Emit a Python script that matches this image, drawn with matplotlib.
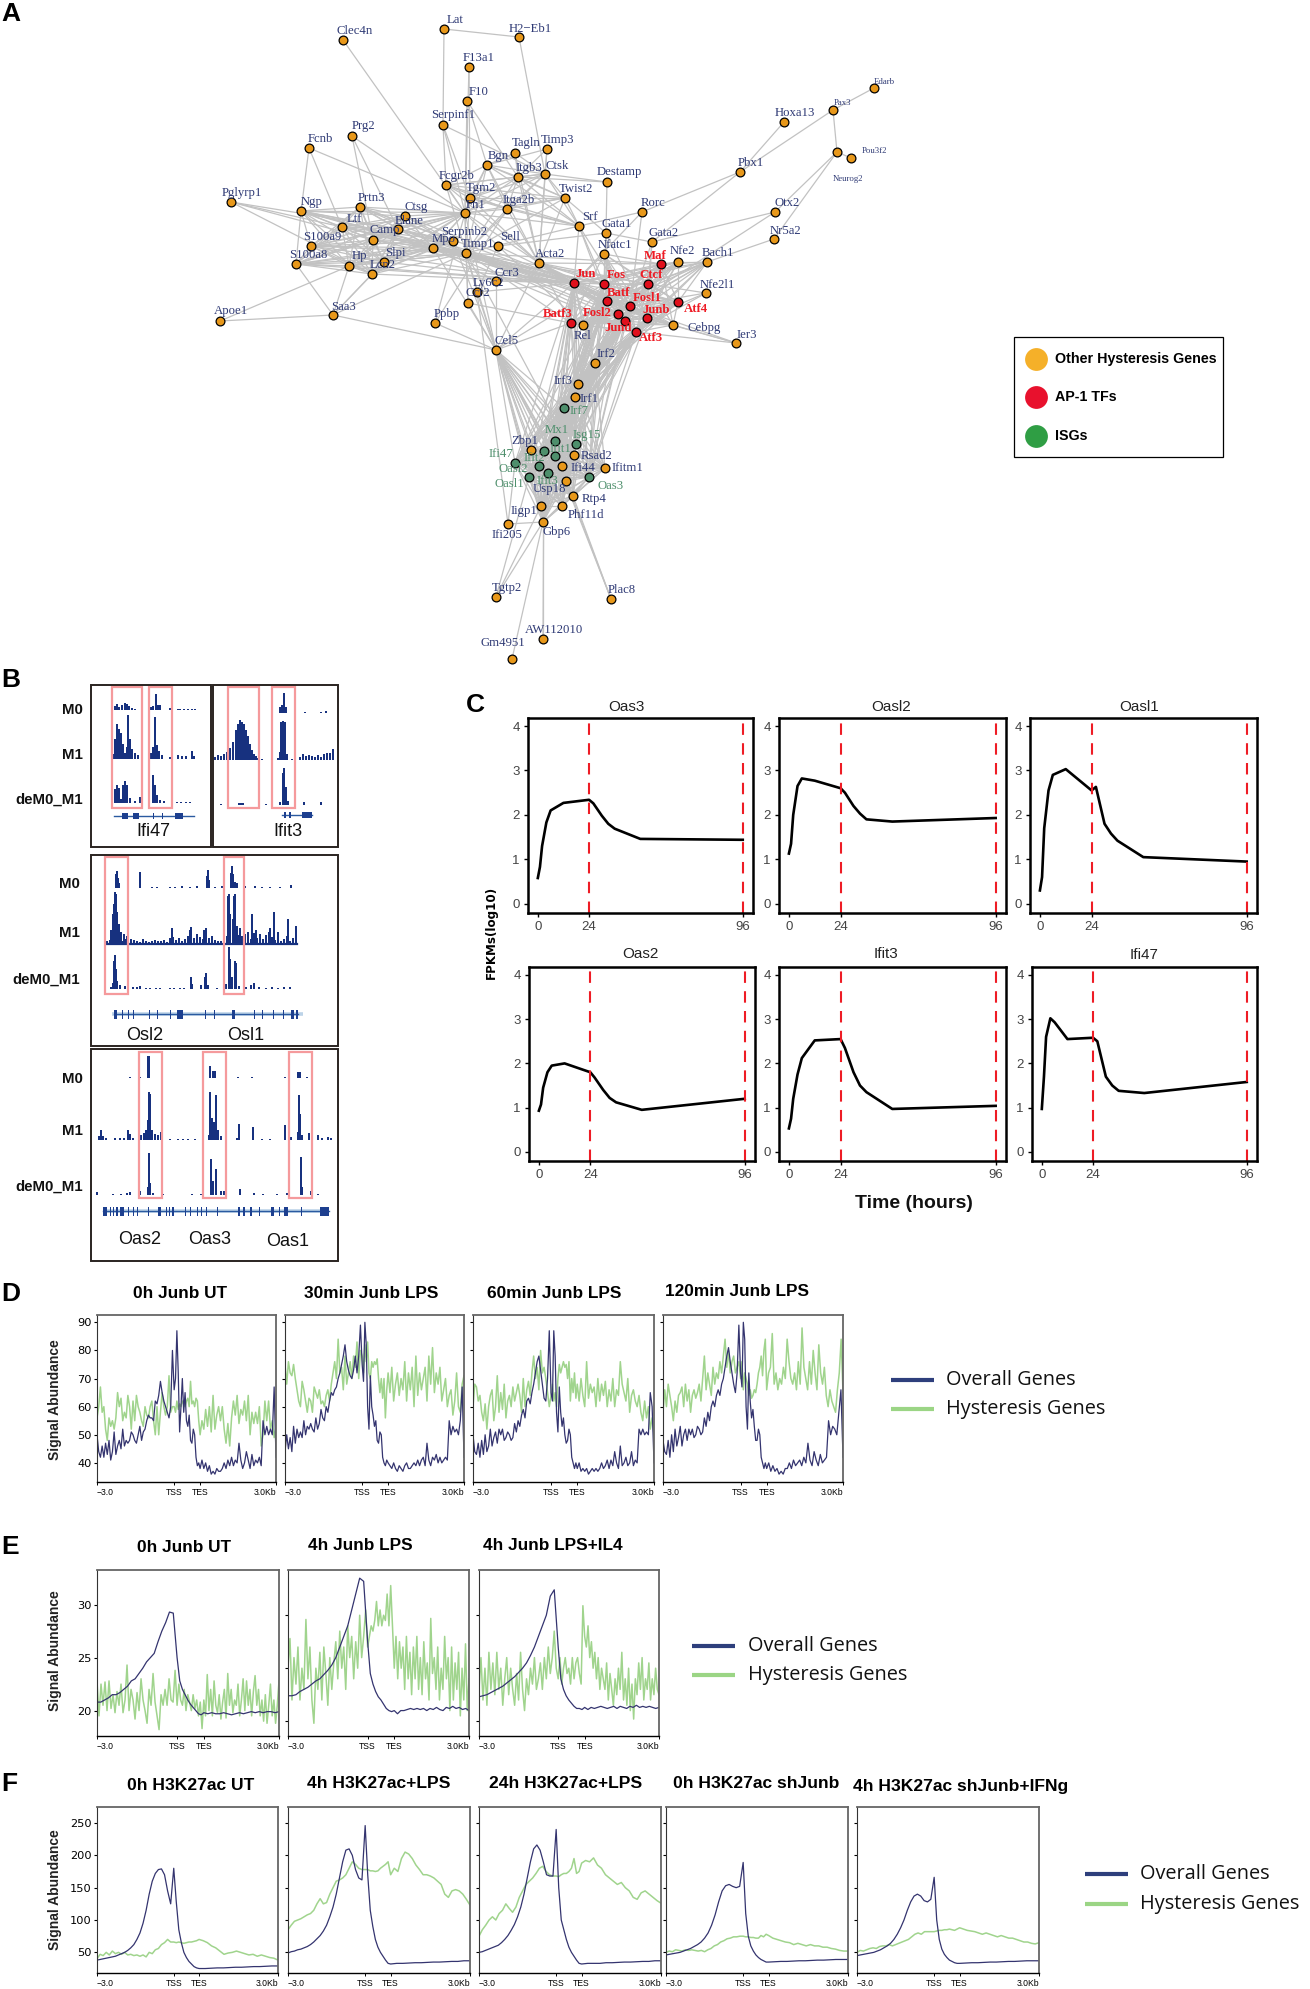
import itertools
import matplotlib
matplotlib.use('Agg')
import matplotlib.pyplot as plt
import numpy as np
from matplotlib.patches import Rectangle

W, H = 1310, 1989
SANS = ['Liberation Sans', 'DejaVu Sans']
NARROW = ['Liberation Sans Narrow', 'Liberation Sans', 'DejaVu Sans']
SERIF = ['Liberation Serif', 'DejaVu Serif']
plt.rcParams['font.family'] = SANS

# ---- panel A: network, node layout (name, x, y, label x, label y)
other_nodes = [
    ('Lat', 444, 29, 455, 20), ('H2\u2212Eb1', 519, 37, 530, 29), ('Clec4n', 343, 40, 355, 31),
    ('F13a1', 469, 67, 479, 58), ('F10', 467, 101, 479, 92), ('Serpinf1', 443, 125, 453, 115),
    ('Prg2', 352, 136, 363, 126), ('Fcnb', 309, 148, 320, 139), ('Tagln', 515, 153, 526, 143),
    ('Timp3', 547, 149, 558, 140), ('Bgn', 487, 165, 498, 156), ('Itgb3', 518, 177, 529, 168),
    ('Ctsk', 545, 174, 557, 166), ('Fcgr2b', 446, 185, 457, 176), ('Destamp', 607, 182, 619, 172),
    ('Tgm2', 470, 198, 481, 188), ('Twist2', 565, 198, 576, 189), ('Fn1', 465, 213, 476, 205),
    ('Itga2b', 507, 209, 519, 200), ('Pglyrp1', 231, 202, 242, 193), ('Ngp', 301, 211, 312, 202),
    ('Prtn3', 360, 207, 371, 198), ('Ctsg', 405, 216, 416, 207), ('Ltf', 342, 227, 354, 219),
    ('Elane', 398, 229, 409, 221), ('Camp', 373, 240, 385, 230), ('S100a9', 311, 246, 322, 237),
    ('Serpinb2', 453, 241, 464, 232), ('Mpo', 433, 248, 444, 239), ('Timp1', 466, 253, 478, 244),
    ('Sell', 498, 246, 510, 237), ('Srf', 579, 226, 590, 217), ('Rorc', 642, 212, 653, 203),
    ('Gata1', 606, 233, 617, 224), ('Nfatc1', 604, 254, 615, 245), ('Gata2', 652, 242, 664, 233),
    ('Nfe2', 678, 262, 682, 251), ('Bach1', 707, 262, 718, 253), ('Otx2', 775, 212, 787, 203),
    ('Nr5a2', 774, 239, 785, 231), ('Pbx1', 740, 172, 751, 163), ('Hoxa13', 784, 122, 795, 113),
    ('Pax3', 833, 110, 842, 103), ('Edarb', 874, 88, 884, 82), ('Neurog2', 837, 152, 848, 179),
    ('Pou3f2', 851, 158, 874, 151), ('S100a8', 296, 264, 308, 255), ('Hp', 349, 266, 359, 256),
    ('Slpi', 384, 262, 395, 253), ('Lcn2', 372, 274, 383, 265), ('Acta2', 539, 263, 550, 254),
    ('Ccr3', 496, 281, 507, 273), ('Ly6c2', 477, 292, 488, 283), ('Ccr2', 468, 303, 478, 293),
    ('Apoe1', 220, 321, 231, 311), ('Saa3', 333, 315, 344, 307), ('Ppbp', 435, 323, 447, 314),
    ('Rel', 583, 325, 583, 336), ('Cebpg', 673, 325, 704, 328), ('Nfe2l1', 706, 293, 717, 285),
    ('Ier3', 736, 343, 747, 335), ('Cel5', 496, 350, 507, 341), ('Irf2', 595, 363, 606, 354),
    ('Irf3', 578, 384, 563, 381), ('Irf1', 575, 397, 589, 399), ('Zbp1', 531, 450, 525, 441),
    ('Rsad2', 574, 455, 597, 456), ('Ifi44', 562, 466, 583, 468), ('Ifitm1', 605, 468, 628, 468),
    ('Usp18', 566, 481, 549, 489), ('Rtp4', 573, 496, 594, 499), ('Iigp1', 541, 506, 524, 511),
    ('Phf11d', 562, 506, 586, 515), ('Gbp6', 543, 522, 557, 532), ('Ifi205', 508, 524, 507, 535),
    ('Tgtp2', 496, 597, 507, 588), ('Plac8', 611, 599, 622, 590), ('AW112010', 543, 639, 554, 630),
    ('Gm4951', 512, 659, 503, 643),
]
ap1_nodes = [
    ('Maf', 661, 264, 655, 256), ('Jun', 574, 283, 586, 274), ('Fos', 604, 284, 616, 275),
    ('Ctcf', 648, 284, 651, 275), ('Batf', 607, 301, 619, 293), ('Fosl1', 630, 306, 647, 298),
    ('Atf4', 678, 302, 696, 309), ('Fosl2', 618, 314, 597, 313), ('Junb', 647, 318, 656, 310),
    ('Jund', 625, 321, 618, 328), ('Batf3', 571, 323, 558, 314), ('Atf3', 636, 332, 651, 338),
]
isg_nodes = [
    ('Irf7', 564, 408, 579, 411), ('Mx1', 555, 441, 557, 430), ('Isg15', 576, 444, 587, 435),
    ('Oasl2', 544, 451, 513, 469), ('Ifit1', 555, 456, 560, 449), ('Ifi47', 515, 463, 501, 454),
    ('Ifit2', 539, 466, 534, 458), ('Ifit3', 548, 473, 547, 481), ('Oasl1', 529, 477, 509, 484),
    ('Oas3', 589, 477, 611, 486),
]
small_labels = ['Edarb', 'Pou3f2', 'Neurog2', 'Pax3']

myeloid = ['Ltf', 'Elane', 'Camp', 'S100a9', 'S100a8', 'Hp', 'Slpi', 'Lcn2', 'Ngp', 'Ctsg', 'Prtn3', 'Mpo']
myeloid_hubs = ['Fn1', 'Timp1', 'Serpinb2', 'Jun']
stroma = ['Bgn', 'Itgb3', 'Ctsk', 'Fcgr2b', 'Tgm2', 'Twist2', 'Itga2b', 'Fn1']
stroma_hubs = ['Acta2', 'Timp1', 'Srf']
ap1_core = ['Jun', 'Fos', 'Ctcf', 'Batf', 'Fosl1', 'Fosl2', 'Junb', 'Jund', 'Atf3', 'Maf', 'Atf4', 'Batf3']
ap1_partners = ['Acta2', 'Timp1', 'Nfatc1', 'Nfe2', 'Bach1', 'Cebpg', 'Rel', 'Irf2', 'Irf3', 'Irf1', 'Irf7']
ap1_to_isg = ['Jun', 'Fos', 'Batf', 'Fosl1', 'Fosl2', 'Junb', 'Jund', 'Atf3']
isg_core = ['Irf7', 'Mx1', 'Isg15', 'Oasl2', 'Ifit1', 'Ifi47', 'Ifit2', 'Ifit3', 'Oasl1', 'Oas3', 'Zbp1',
            'Rsad2', 'Ifi44', 'Ifitm1', 'Usp18', 'Rtp4', 'Iigp1', 'Phf11d', 'Gbp6']
isg_up = ['Irf1', 'Irf2', 'Irf3', 'Cel5']
cel5_links = ['Jun', 'Fos', 'Acta2', 'Fn1', 'Timp1', 'Mpo', 'Ccr3', 'Ly6c2', 'Ccr2', 'Ppbp', 'Batf3', 'Saa3', 'Serpinb2']
single_edges = [
    ('Lat', 'H2\u2212Eb1'), ('Lat', 'Serpinf1'), ('H2\u2212Eb1', 'Ctsk'), ('Clec4n', 'Fn1'), ('F13a1', 'Fn1'),
    ('F13a1', 'Tgm2'), ('F10', 'Fn1'), ('F10', 'Bgn'), ('F10', 'Itgb3'), ('Serpinf1', 'Fn1'), ('Serpinf1', 'Fcgr2b'),
    ('Serpinf1', 'Ctsk'), ('Serpinf1', 'Tgm2'), ('Prg2', 'Fn1'), ('Prg2', 'Camp'), ('Prg2', 'Elane'), ('Fcnb', 'Ngp'),
    ('Fcnb', 'Fn1'), ('Fcnb', 'Ltf'), ('Pglyrp1', 'Ltf'), ('Pglyrp1', 'Camp'), ('Pglyrp1', 'Elane'), ('Pglyrp1', 'Lcn2'),
    ('Pbx1', 'Hoxa13'), ('Pbx1', 'Pax3'), ('Pbx1', 'Rorc'), ('Pbx1', 'Gata2'), ('Pax3', 'Edarb'), ('Pax3', 'Neurog2'),
    ('Neurog2', 'Pou3f2'), ('Neurog2', 'Otx2'), ('Neurog2', 'Nr5a2'), ('Otx2', 'Gata2'), ('Otx2', 'Fosl1'),
    ('Nr5a2', 'Bach1'), ('Rorc', 'Srf'), ('Rorc', 'Fosl1'), ('Rorc', 'Jun'), ('Destamp', 'Ctsk'), ('Destamp', 'Gata1'),
    ('Destamp', 'Itgb3'), ('Saa3', 'S100a8'), ('Saa3', 'Hp'), ('Saa3', 'Lcn2'), ('Saa3', 'Slpi'), ('Saa3', 'Apoe1'),
    ('Saa3', 'Timp1'), ('Apoe1', 'Hp'), ('Ppbp', 'Fn1'), ('Ppbp', 'Itga2b'), ('Ier3', 'Atf3'), ('Ier3', 'Junb'),
    ('Ier3', 'Fosl1'), ('Ier3', 'Cebpg'), ('Gbp6', 'AW112010'), ('Gbp6', 'Gm4951'), ('Gbp6', 'Tgtp2'), ('Gbp6', 'Ifi205'),
    ('Iigp1', 'Tgtp2'), ('Oasl1', 'Tgtp2'), ('Ifi47', 'Ifi205'), ('Ly6c2', 'Ifi205'), ('Oasl2', 'AW112010'),
    ('Ifit1', 'Plac8'), ('Rtp4', 'Plac8'), ('Usp18', 'Plac8'), ('Timp1', 'Rsad2'), ('Sell', 'Rel'), ('Ccr3', 'Jun'),
    ('Ly6c2', 'Jun'), ('Ccr2', 'Batf3'), ('Ccr3', 'Mpo'), ('Ly6c2', 'Timp1'), ('Ccr2', 'Timp1'), ('Ccr2', 'Fn1'),
    ('Ly6c2', 'Sell'), ('Srf', 'Timp1'), ('Sell', 'Gata1'), ('Twist2', 'Gata1'), ('Gata1', 'Gata2'), ('Nfe2', 'Bach1'),
    ('Tagln', 'Itgb3'), ('Tagln', 'Bgn'), ('Tagln', 'Ctsk'), ('Timp3', 'Itgb3'), ('Timp3', 'Bgn'), ('Timp3', 'Ctsk'),
    ('Timp3', 'Acta2'), ('Tagln', 'Acta2'), ('Mpo', 'Fn1'), ('Sell', 'Fn1'), ('Sell', 'Jun'), ('Srf', 'Jun'), ('Srf', 'Fos'),
    ('Srf', 'Batf'), ('Srf', 'Fosl1'), ('Gata1', 'Fos'), ('Gata1', 'Batf'), ('Gata1', 'Junb'), ('Gata2', 'Fosl1'),
    ('Gata2', 'Junb'), ('Gata2', 'Ctcf'), ('Nfe2l1', 'Fosl1'), ('Nfe2l1', 'Junb'), ('Nfe2l1', 'Ctcf'), ('Nfe2l1', 'Atf3'),
    ('Mpo', 'Jun'), ('Mpo', 'Fos'), ('Mpo', 'Batf'), ('Mpo', 'Atf3'),
]

legend_a_labels = ['Other Hysteresis Genes', 'AP-1 TFs', 'ISGs']

# ---- panel B: ChIP tracks, (x, height) in pixels per track
ifi47_m0 = [(115, 4), (117, 6), (119, 3), (122, 5), (125, 7), (127, 6), (129, 4), (132, 2), (135, 1), (142, 2), (151, 3),
            (153, 4), (156, 16), (158, 5), (160, 5), (170, 2), (178, 1), (180, 1), (184, 1), (188, 1), (192, 1), (195, 1)]
ifi47_m1 = [(113, 5), (115, 20), (117, 35), (119, 30), (121, 26), (123, 15), (125, 6), (127, 12), (128, 44), (130, 20),
            (132, 10), (135, 6), (138, 4), (142, 10), (151, 6), (153, 12), (155, 42), (157, 14), (159, 8), (162, 4),
            (170, 2), (178, 4), (182, 3), (186, 3), (192, 8), (194, 3)]
ifi47_de = [(115, 14), (117, 18), (119, 15), (121, 4), (123, 18), (125, 22), (127, 18), (130, 5), (135, 2), (140, 6),
            (153, 28), (155, 18), (157, 8), (160, 3), (164, 2), (177, 1), (181, 1), (186, 1), (190, 1)]
ifit3_m0 = [(280, 6), (282, 8), (284, 20), (286, 6), (305, 1), (321, 1), (326, 2)]
ifit3_m1 = [(215, 3), (218, 5), (221, 4), (224, 6), (227, 8), (230, 12), (233, 18), (236, 30), (238, 36), (240, 40),
            (242, 38), (244, 36), (246, 30), (248, 24), (250, 16), (252, 10), (254, 6), (256, 4), (258, 2), (262, 1),
            (278, 2), (280, 8), (281, 38), (283, 39), (285, 38), (287, 6), (292, 1), (300, 3), (303, 6), (306, 4),
            (309, 5), (312, 4), (315, 3), (318, 5), (321, 3), (324, 6), (327, 7), (330, 7), (333, 11)]
ifit3_de = [(221, 1), (239, 2), (241, 2), (243, 2), (266, 1), (280, 3), (283, 32), (284, 37), (286, 18), (288, 4),
            (304, 3), (321, 3)]
osl_m0 = [(116, 14), (117, 17), (118, 10), (119, 5), (128, 1), (140, 16), (152, 1), (157, 1), (170, 1), (175, 1), (182, 2),
          (190, 1), (197, 2), (207, 12), (208, 18), (209, 8), (215, 1), (222, 2), (231, 15), (232, 22), (233, 14), (235, 6),
          (237, 5), (245, 2), (255, 2), (262, 1), (270, 1), (280, 1), (291, 3)]
osl_m1 = [(111, 14), (113, 30), (114, 40), (115, 52), (116, 50), (117, 32), (119, 20), (121, 12), (124, 10), (127, 8),
          (172, 16), (190, 14), (191, 17), (204, 14), (206, 16), (228, 48), (229, 50), (230, 30), (233, 25), (234, 48),
          (235, 50), (237, 18), (240, 16), (245, 10), (248, 12), (252, 30), (256, 14), (260, 10), (270, 16), (274, 32),
          (278, 12), (288, 25), (296, 18)]
osl_m1_low = [3, 4, 5, 6, 4, 3, 5, 2, 5, 4, 3, 2, 5, 3, 2, 3, 4, 3, 3, 4, 2, 6, 7, 4, 6, 3, 5, 8, 6, 6, 10, 7, 5, 7, 6, 8, 4, 3,
              3, 12, 8, 14, 10, 12, 9, 8, 10, 7, 5, 11, 6, 8, 5, 9, 12, 7, 4, 6, 3, 5, 8, 3, 6, 2]
osl_de = [(111, 2), (113, 6), (114, 28), (115, 34), (116, 20), (117, 8), (120, 4), (125, 3), (133, 2), (137, 2), (140, 3),
          (146, 1), (150, 1), (156, 1), (160, 1), (170, 1), (174, 1), (180, 1), (184, 1), (191, 12), (192, 5), (201, 4), (205, 12),
          (206, 16), (208, 4), (217, 1), (226, 5), (229, 42), (230, 30), (232, 12), (235, 28), (236, 26), (239, 3), (246, 2),
          (251, 4), (254, 6), (259, 2), (266, 1), (272, 2), (278, 1), (284, 2), (290, 2)]
oas_m0 = [(130, 1), (140, 1), (148, 22), (149, 22), (210, 12), (213, 7), (215, 7), (238, 1), (252, 1), (285, 1),
          (298, 6), (300, 6), (307, 1)]
oas_m1 = [(99, 4), (101, 10), (103, 4), (106, 2), (115, 2), (120, 2), (124, 2), (128, 10), (130, 6), (133, 2), (141, 5),
          (144, 7), (146, 10), (148, 20), (149, 48), (150, 46), (152, 10), (155, 6), (158, 5), (161, 8), (170, 1), (178, 1),
          (183, 1), (188, 1), (195, 1), (209, 5), (210, 48), (212, 22), (214, 18), (216, 45), (218, 10), (221, 4), (237, 2),
          (239, 16), (253, 13), (262, 1), (270, 1), (285, 15), (291, 3), (298, 8), (299, 45), (300, 26), (302, 5),
          (309, 7), (312, 2), (318, 5), (322, 2), (328, 3), (331, 2)]
oas_de = [(97, 3), (113, 1), (121, 1), (127, 2), (130, 3), (140, 4), (148, 8), (149, 42), (150, 12), (153, 2), (163, 1), (192, 1),
          (201, 1), (211, 36), (213, 14), (216, 26), (221, 4), (224, 4), (240, 6), (254, 2), (263, 1), (277, 1), (287, 2),
          (301, 38), (302, 8), (311, 4), (318, 1)]

# gene models: (start, end) of the exon blocks
ifi47_exons = [(122, 128), (133, 139), (153, 154), (162, 163), (175, 183)]
ifit3_exons = [(284, 286), (289, 291), (302, 312)]
osl_exons = [(114, 117), (122, 123), (128, 129), (133, 134), (149, 150), (157, 158), (170, 171), (177, 183), (205, 206), (214, 215),
             (232, 235), (254, 255), (262, 263), (273, 274), (283, 284), (291, 294), (296, 298)]
oas_exons = [(103, 107), (110, 111), (113, 114), (116, 118), (120, 124), (128, 129), (133, 134), (137, 138), (148, 149),
             (158, 161), (166, 167), (169, 170), (172, 174), (185, 186), (190, 191), (197, 198), (201, 202), (206, 207),
             (217, 218), (238, 240), (243, 245), (250, 252), (259, 260), (271, 274), (279, 280), (284, 288), (301, 302), (320, 329)]

# ---- panel C: time courses
c_genes = ['Oas3', 'Oasl2', 'Oasl1', 'Oas2', 'Ifit3', 'Ifi47']
c_times = [0, 1, 2, 4, 6, 12, 24, 26, 30, 33, 36, 48, 96]
c_oas3 = [.58, .83, 1.3, 1.83, 2.1, 2.27, 2.34, 2.26, 1.98, 1.8, 1.69, 1.46, 1.44]
c_oasl2 = [1.13, 1.35, 2.0, 2.65, 2.82, 2.77, 2.6, 2.5, 2.2, 2.03, 1.9, 1.85, 1.93]
c_oasl1 = [.3, .6, 1.7, 2.55, 2.9, 3.03, 2.55, 2.63, 1.8, 1.58, 1.42, 1.05, .95]
c_oas2 = [.93, 1.07, 1.45, 1.8, 1.95, 2.0, 1.8, 1.68, 1.4, 1.22, 1.12, .95, 1.2]
c_ifit3 = [.53, .75, 1.2, 1.75, 2.12, 2.52, 2.55, 2.35, 1.8, 1.5, 1.35, .97, 1.04]
c_ifi47 = [.97, 1.7, 2.6, 3.02, 2.93, 2.55, 2.58, 2.5, 1.7, 1.5, 1.38, 1.33, 1.58]

# ---- panels D-F: profiles, each one is (upstream, gene body, downstream)
d_titles = ['0h Junb UT', '30min Junb LPS', '60min Junb LPS', '120min Junb LPS']
d1_overall = ([50, 44, 42, 46, 42, 47, 43, 48, 41, 44, 51, 43, 46, 48, 45, 52, 46, 48, 47, 48, 51, 50, 48, 47, 50, 53, 48, 51, 52, 55,
               57, 56, 56, 55, 62, 61, 64, 69, 65, 62, 60, 58, 56, 60, 80],
              [66, 70, 87, 72, 51, 60, 70, 58, 65, 55, 53, 57, 48, 47, 52, 50, 42, 39, 40],
              [38, 41, 38, 40, 37, 39, 36, 37, 36, 38, 37, 37, 38, 40, 38, 41, 39, 42, 39, 41, 40, 47, 41, 38, 40, 44, 41, 38, 43, 39,
               41, 40, 42, 39, 55, 50, 53, 50, 52, 50, 67, 42])
d1_hyst = ([56, 60, 67, 58, 60, 52, 48, 56, 53, 55, 52, 56, 65, 60, 63, 55, 58, 56, 64, 60, 52, 62, 55, 64, 60, 58, 55, 53, 60, 57,
            56, 60, 62, 55, 50, 60, 50, 58, 65, 60, 57, 60, 71, 58, 60],
           [60, 58, 62, 59, 61, 60, 62, 61, 60, 62, 63, 60, 69, 61, 62, 60, 63, 62, 55],
           [50, 55, 52, 59, 53, 60, 51, 64, 52, 57, 60, 55, 60, 52, 47, 54, 46, 56, 62, 57, 64, 54, 59, 57, 62, 55, 64, 50, 58, 54,
            58, 54, 60, 46, 50, 62, 55, 62, 52, 55, 49, 53])
d2_overall = ([44, 50, 45, 49, 44, 53, 47, 52, 49, 51, 49, 55, 50, 53, 52, 54, 52, 51, 56, 52, 54, 59, 56, 55, 60, 58, 62, 65, 64, 66,
               67, 70, 72, 75, 78, 82, 76, 73, 71, 70, 73, 78, 72, 78, 89],
              [75, 69, 90, 82, 60, 52, 71, 60, 57, 53, 55, 48, 47, 51, 50, 42, 40, 39, 41],
              [40, 39, 38, 40, 38, 37, 39, 38, 37, 39, 40, 38, 38, 39, 40, 39, 41, 39, 41, 42, 39, 47, 41, 39, 42, 41, 43, 40, 42, 40,
               41, 42, 41, 55, 50, 53, 51, 52, 50, 55, 67, 42])
d2_hyst = ([75, 68, 76, 72, 71, 75, 70, 66, 62, 60, 69, 66, 62, 58, 63, 62, 58, 67, 65, 63, 66, 61, 62, 60, 64, 66, 62, 68, 72, 76,
            70, 84, 72, 74, 66, 78, 68, 72, 76, 70, 78, 74, 83, 70, 80],
           [78, 72, 82, 76, 83, 72, 70, 76, 74, 76, 75, 77, 70, 65, 70, 63, 70, 56, 66],
           [72, 65, 74, 62, 68, 72, 64, 70, 66, 76, 62, 72, 66, 74, 60, 78, 64, 72, 66, 70, 74, 62, 78, 68, 81, 65, 72, 68, 74, 62,
            66, 70, 60, 64, 66, 57, 62, 72, 60, 58, 68, 71])
d3_overall = ([50, 44, 43, 47, 42, 48, 43, 50, 44, 46, 52, 46, 49, 51, 47, 52, 50, 52, 48, 49, 51, 50, 48, 49, 54, 51, 55, 53, 57, 59,
               56, 62, 63, 61, 65, 68, 72, 76, 78, 73, 68, 63, 62, 70, 87],
              [65, 62, 87, 78, 58, 51, 67, 58, 53, 56, 50, 47, 48, 52, 50, 42, 40, 38, 40],
              [38, 40, 37, 38, 37, 38, 36, 37, 38, 37, 38, 37, 38, 40, 38, 39, 41, 38, 41, 39, 44, 40, 38, 46, 39, 40, 42, 39, 40, 44,
               39, 41, 40, 52, 50, 52, 50, 51, 50, 65, 60, 40])
d3_hyst = ([60, 68, 67, 62, 64, 58, 55, 61, 52, 60, 64, 66, 55, 60, 71, 58, 65, 59, 68, 56, 62, 64, 60, 67, 62, 65, 68, 64, 58, 70,
            60, 66, 69, 64, 72, 78, 70, 74, 66, 80, 72, 74, 70, 65, 60],
           [64, 68, 62, 65, 60, 70, 75, 72, 74, 76, 74, 75, 70, 76, 62, 70, 65, 72, 63],
           [68, 62, 70, 64, 60, 76, 63, 68, 65, 67, 60, 70, 62, 68, 64, 69, 60, 66, 62, 70, 60, 66, 64, 76, 68, 65, 62, 70, 58, 64,
            66, 62, 60, 64, 58, 55, 62, 56, 60, 52, 56, 50])
d4_overall = ([48, 44, 43, 48, 42, 50, 44, 52, 46, 49, 53, 46, 50, 52, 48, 52, 50, 52, 49, 50, 53, 52, 50, 51, 56, 53, 58, 55, 60, 62,
               60, 64, 66, 64, 68, 70, 74, 78, 81, 76, 72, 68, 65, 72, 89],
              [72, 67, 90, 84, 60, 52, 72, 62, 56, 59, 53, 48, 48, 52, 50, 42, 40, 38, 40],
              [38, 40, 37, 39, 37, 38, 36, 37, 36, 38, 38, 40, 38, 41, 39, 40, 41, 39, 42, 40, 47, 41, 39, 44, 41, 39, 43, 40, 41, 42,
               55, 50, 53, 52, 50, 58, 66, 42])
d4_hyst = ([58, 66, 60, 68, 64, 60, 55, 62, 58, 64, 65, 67, 60, 68, 62, 66, 58, 64, 66, 63, 65, 68, 62, 70, 78, 66, 72, 68, 64, 74,
            68, 72, 70, 76, 72, 78, 84, 74, 80, 72, 76, 78, 72, 74, 76],
           [70, 76, 66, 72, 70, 68, 64, 66, 63, 64, 66, 65, 68, 72, 74, 78, 71, 80, 84],
           [66, 72, 74, 86, 68, 72, 66, 70, 68, 74, 70, 84, 76, 70, 68, 72, 66, 76, 68, 88, 74, 70, 66, 76, 68, 80, 72, 66, 82, 72,
            68, 74, 64, 60, 66, 62, 60, 58, 66, 72, 84, 65])

e_titles = ['0h Junb UT', '4h Junb LPS', '4h Junb LPS+IL4']
e1_overall = ([20.8, 20.8, 21, 21.2, 21.5, 21.5, 21.7, 22, 22.3, 22.8, 23, 23.5, 24, 24.6, 25, 25.4, 26.5, 27.5, 28.3, 29.3, 29.2],
              [25, 22.8, 22, 21.5, 21, 20.6, 20.3, 20, 19.7, 19.6],
              [19.8, 19.7, 19.8, 19.7, 19.7, 19.8, 19.7, 19.6, 19.7, 19.8, 19.7, 19.8, 19.9, 19.8, 19.9, 19.8, 19.9, 19.9, 19.8, 19.9])
e1_hyst = ([22.8, 19.5, 22.5, 20.5, 22.7, 20, 22.8, 20.2, 21.5, 19.8, 21.8, 20.5, 22.5, 19.8, 21, 24.3, 20, 22, 21, 19.2,
            21.7, 20, 23, 21, 20, 18.8, 22, 20.5, 23.5, 20.8, 19.5, 18.2, 21.5, 20.5, 22, 20.5, 23, 21, 20.8, 23.8],
           [20.5, 22.5, 21, 20.5, 22, 20, 21.5, 20.8, 20, 21.5, 20.2, 21, 19.5, 20.8, 18.3],
           [21, 19.5, 23.4, 20, 22, 19.5, 22.8, 20.5, 19.8, 21.5, 19.2, 20.8, 22, 19.3, 23.5, 20.5, 22, 19.8, 21, 20.5, 22.5, 19.5, 21,
            23, 20, 22.8, 20.5, 22, 19.5, 21.8, 23.3, 20.5, 22, 19.5, 21, 19, 21.5, 18.8, 20.5, 22.5, 19.5, 21, 18.8, 20.5, 22.8])
e2_overall = ([21.4, 21.4, 21.5, 21.8, 22, 22.2, 22.5, 22.8, 23, 23.4, 23.8, 24.3, 25, 26, 27, 28, 29.5, 31, 32.5, 32.2],
              [26.5, 23.5, 22.5, 21.8, 21.3, 21, 20.6, 20.2, 20, 19.9],
              [20, 19.7, 20, 20, 20.1, 20.2, 20.1, 20.2, 20.1, 20.2, 20, 20.2, 20.1, 20.3, 20.1, 20, 20.3, 20.2, 20.4, 20.2, 20.3, 20.1, 20.2, 20])
e2_hyst = ([24, 26.8, 21, 25, 22.5, 26, 21, 24, 22, 28.6, 23, 26, 21, 18.8, 24, 22, 25.5, 21, 26, 23.5,
            20.5, 25, 22, 24.5, 26.5, 23, 27.5, 24, 26, 22, 28, 25, 27, 23, 26.5, 24, 29, 25, 27, 29.5],
           [26, 27, 28, 27.5, 28.5, 30.3, 28, 29.5, 28, 29, 28.5, 31, 28, 31.8, 28],
           [24, 27, 23, 26.5, 24, 26, 22, 27, 23, 25.5, 21.5, 26, 23, 27, 22, 25, 21.5, 26.5, 23, 24.5, 21, 28.7, 23.5, 25, 22, 26, 21,
            24, 22, 27, 23, 25, 20, 26, 21, 24.5, 22, 25.5, 19.5, 24, 21, 26.3, 20, 23])
e3_overall = ([21.3, 21.4, 21.5, 21.7, 21.9, 22.1, 22.3, 22.6, 22.9, 23.2, 23.6, 24, 24.5, 25.2, 26, 27, 28, 29, 30.8, 31.4],
              [26, 23, 22, 21.4, 21, 20.7, 20.4, 20.2, 20.2, 20.1],
              [20.3, 20.1, 20.3, 20.2, 20.3, 20.4, 20.3, 20.2, 20.3, 20.4, 20.2, 20.4, 20.3, 20.2, 20.4, 20.3, 20.5, 20.3, 20.4, 20.3, 20.4, 20.3, 20.2, 20.3])
e3_hyst = ([22, 25, 21, 24, 20.5, 25.5, 22, 24.5, 21.5, 25.5, 22, 24, 20.5, 23, 25, 21.5, 24, 22, 20.5, 23.5,
            21, 25.5, 22, 20, 23, 21.5, 24, 22.5, 25, 22, 23, 24.5, 22, 25, 23, 26, 23.5, 25, 27.5, 24],
           [23, 25, 22.5, 24, 25, 23.5, 24, 22.5, 25, 23, 24.5, 25, 23.5, 22.5, 29.9],
           [27, 26, 28, 25, 26.5, 24, 25.5, 23, 25, 22, 24, 23, 22, 24.5, 21, 23.5, 22, 20.5, 23, 21.5, 24, 22, 25.5, 21, 23, 20.5, 24,
            20, 22.5, 19.2, 23, 21.5, 24.5, 22, 25, 21, 23, 22, 24.5, 21, 23, 21.5, 24, 22, 21.5])

f_titles = ['0h H3K27ac UT', '4h H3K27ac+LPS', '24h H3K27ac+LPS', '0h H3K27ac shJunb', '4h H3K27ac shJunb+IFNg']
f1_overall = ([38, 39, 40, 41, 42, 43, 44, 46, 48, 50, 53, 57, 62, 70, 80, 95, 115, 140, 160, 172, 178, 179, 170, 145, 125],
              [180, 128, 85, 65, 50, 42, 36, 32, 28, 26],
              [25, 25, 25.5, 26, 26, 26.5, 27, 27, 27.5, 28, 28, 28.5, 29, 29])
f1_hyst = ([40, 47, 45, 50, 46, 52, 48, 50, 47, 50, 46, 47, 45, 46, 44, 46, 43, 50, 48, 54, 56, 62, 65, 70, 66],
           [66, 65, 66, 65, 64, 65, 66, 66, 67, 68],
           [70, 68, 65, 60, 57, 52, 47, 49, 50, 52, 50, 48, 46, 47, 44, 46, 44, 42, 41, 38])
f2_overall = ([49, 51, 52, 54, 55, 57, 59, 62, 66, 71, 76, 83, 92, 105, 120, 140, 165, 190, 208, 210, 200, 178, 165, 162],
              [246, 170, 115, 90, 70, 58, 50, 44, 38, 33],
              [32, 33, 33, 33.5, 34, 34, 34.5, 35, 35, 35.5, 36, 36, 37, 37])
f2_hyst = ([85, 92, 98, 100, 102, 105, 108, 110, 115, 125, 133, 125, 127, 140, 150, 160, 162, 165, 170, 180, 190, 186, 180, 178],
           [178, 178, 176, 176, 175, 176, 180, 183, 186, 190],
           [170, 180, 175, 195, 205, 202, 195, 185, 178, 170, 170, 168, 165, 160, 155, 140, 135, 145, 147, 145, 140, 132, 123])
f3_overall = ([50, 51, 53, 55, 57, 59, 61, 65, 70, 76, 84, 93, 105, 120, 140, 165, 190, 210, 216, 208, 190, 170, 168, 168],
              [240, 150, 100, 85, 70, 58, 50, 44, 38, 33],
              [32, 33, 33, 33, 34, 34, 34.5, 35, 35, 35.5, 36, 36, 37, 37])
f3_hyst = ([75, 85, 92, 100, 105, 100, 110, 115, 125, 118, 112, 120, 135, 145, 155, 160, 165, 172, 180, 183, 175, 170, 168],
           [168, 167, 170, 172, 172, 175, 180, 195, 172, 175],
           [188, 192, 190, 196, 185, 180, 170, 165, 160, 155, 158, 150, 145, 135, 132, 142, 145, 140, 135, 130, 126])
f4_overall = ([46, 47, 48, 49, 50, 52, 54, 56, 59, 62, 66, 72, 80, 92, 108, 128, 145, 153, 155, 152, 150, 152],
              [189, 110, 75, 60, 52, 46, 42, 39, 37, 35],
              [35, 35.5, 36, 36, 36.5, 37, 37, 37.5, 38, 38, 38.5, 39, 39, 39])
f4_hyst = ([50, 52, 51, 54, 53, 52, 54, 53, 54, 53, 52, 53, 51, 54, 56, 60, 62, 66, 68, 71, 72, 74, 74, 75],
           [75, 74, 74, 73, 73, 72, 72, 76, 74, 78],
           [76, 72, 70, 68, 66, 65, 62, 64, 62, 60, 62, 60, 60, 58, 58, 56, 55, 53, 52, 52])
f5_overall = ([45, 46, 47, 48, 49, 50, 52, 54, 57, 60, 64, 70, 78, 88, 100, 115, 128, 137, 140, 137, 130, 128, 132],
              [166, 100, 70, 55, 47, 42, 38, 36, 34, 33],
              [33, 33.5, 34, 34, 34.5, 35, 35, 35.5, 36, 36, 36.5, 37, 37, 37])
f5_hyst = ([50, 53, 52, 54, 56, 57, 56, 59, 60, 60, 62, 60, 62, 64, 66, 68, 70, 74, 78, 80, 78, 82, 82, 82],
           [82, 83, 84, 84, 85, 85, 86, 85, 84, 86],
           [88, 86, 84, 83, 82, 80, 78, 80, 78, 76, 74, 76, 74, 72, 72, 70, 68, 66, 66, 64, 63, 65])

BLUE = '#34346f'
GREEN = '#a0d48d'
TRACK = '#17317f'
PINK = '#f59a9c'


def px_axes(left, top, right, bottom):
    """axes placed by its pixel box"""
    return fig.add_axes([left / W, 1 - bottom / H, (right - left) / W, (bottom - top) / H])


def profile_x(curve, tss, tes):
    """x of a (up, body, down) profile: each part fills its own stretch of the axis"""
    up, body, down = curve
    return np.concatenate([np.linspace(0, tss, len(up), endpoint=False),
                           np.linspace(tss, tes, len(body), endpoint=False),
                           np.linspace(tes, 1, len(down))])


def draw_profile(box, overall, hyst, ylim, yticks, labelled, tss, tes):
    ax = px_axes(*box)
    ax.plot(profile_x(hyst, tss, tes), sum(hyst, []), color=GREEN, lw=1.1)
    ax.plot(profile_x(overall, tss, tes), sum(overall, []), color=BLUE, lw=0.9)
    ax.set_xlim(0, 1)
    ax.set_ylim(*ylim)
    ax.set_yticks(yticks)
    if labelled:
        ax.set_yticklabels([str(t) for t in yticks], family='DejaVu Sans', fontsize=8.2)
    else:
        ax.set_yticklabels([])
    ax.tick_params(axis='y', length=2, width=0.8, pad=2)
    ax.set_xticks([0, tss, tes, 1])
    labs = ax.set_xticklabels(['\u22123.0', 'TSS', 'TES', '3.0Kb'], family=NARROW, fontsize=6.2)
    labs[0].set_ha('left')
    labs[3].set_ha('right')
    ax.tick_params(axis='x', length=2, width=0.7, pad=2)
    for side in ['top', 'right']:
        ax.spines[side].set_color('#666666')
        ax.spines[side].set_linewidth(1.3)
    ax.spines['left'].set_linewidth(0.8)
    ax.spines['left'].set_color('#333333')
    ax.spines['bottom'].set_linewidth(1.0)
    return ax


def draw_track(peaks, baseline, color=TRACK):
    xs = [p[0] for p in peaks]
    hs = [-p[1] for p in peaks]
    ov.bar(xs, hs, bottom=baseline, width=2.0, color=color, linewidth=0, zorder=2)


def draw_gene(exons, y, start, end, light=None, ht=6):
    if light:
        ov.plot(light, [y, y], color='#bcd3e8', lw=2.6, zorder=2, solid_capstyle='butt')
    ov.plot([start, end], [y, y], color='#2a5aa0', lw=1.0, zorder=3)
    for a, b in exons:
        ov.add_patch(Rectangle((a, y - ht / 2), b - a, ht, color='#1d3f8f', lw=0, zorder=3))


def side_legend(x0, x1, xtext, y0, y1, size):
    ov.plot([x0, x1], [y0, y0], color='#2e3f7c', lw=3, solid_capstyle='butt')
    ov.plot([x0, x1], [y1, y1], color='#9bd585', lw=3, solid_capstyle='butt')
    ov.text(xtext, y0, 'Overall Genes', family='Open Sans', fontsize=size, va='center', color='#111111')
    ov.text(xtext, y1, 'Hysteresis Genes', family='Open Sans', fontsize=size, va='center', color='#111111')


fig = plt.figure(figsize=(W / 100, H / 100), dpi=100)
ov = fig.add_axes([0, 0, 1, 1])
ov.set_xlim(0, W)
ov.set_ylim(H, 0)
ov.axis('off')

# panel letters
for letter, x, y in [('A', 1, 14), ('B', 1, 680), ('C', 466, 705), ('D', 1, 1294), ('E', 1, 1547), ('F', 1, 1784)]:
    ov.text(x, y, letter, fontsize=19, fontweight='bold', va='center', ha='left', color='black')

# ---- A
all_nodes = other_nodes + ap1_nodes + isg_nodes
pos = {n[0]: (n[1], n[2]) for n in all_nodes}
edges = list(single_edges)
edges += list(itertools.combinations(myeloid, 2))
edges += list(itertools.product(myeloid, myeloid_hubs))
edges += list(itertools.combinations(stroma, 2))
edges += list(itertools.product(stroma, stroma_hubs))
edges += list(itertools.combinations(ap1_core, 2))
edges += list(itertools.product(ap1_core, ap1_partners))
edges += list(itertools.product(ap1_to_isg, isg_core[:10]))
edges += list(itertools.combinations(isg_core, 2))
edges += list(itertools.product(isg_up, isg_core))
edges += [('Cel5', n) for n in cel5_links]
for a, b in edges:
    ov.plot([pos[a][0], pos[b][0]], [pos[a][1], pos[b][1]], color='#c2c2c2', lw=0.9, zorder=1)

for group, face, text_col, weight in [(other_nodes, '#e8981a', '#2f3a75', 'normal'),
                                      (ap1_nodes, '#e0101c', '#ee1c25', 'bold'),
                                      (isg_nodes, '#4e8f6c', '#4e8f6c', 'normal')]:
    ov.scatter([n[1] for n in group], [n[2] for n in group], s=40, color=face, edgecolor='black', linewidth=0.9, zorder=3)
    for n in group:
        size = 6.3 if n[0] in small_labels else 9.2
        ov.text(n[3], n[4], n[0], family=SERIF, fontsize=size, color=text_col, fontweight=weight,
                ha='center', va='center', zorder=4)

ov.add_patch(Rectangle((1014, 337), 209, 120, fill=False, edgecolor='black', lw=0.9))
for label, y, col in zip(legend_a_labels, [359, 397, 436], ['#f5b029', '#e8112d', '#2f9e44']):
    ov.scatter([1036], [y], s=270, color=col, linewidth=0, zorder=3)
    ov.text(1055, y, label, fontsize=10.3, fontweight='bold', va='center')

# ---- B
for x0, y0, x1, y1 in [(91, 685, 211, 847), (213, 685, 338, 847), (91, 855, 338, 1046), (91, 1049, 338, 1261)]:
    ov.add_patch(Rectangle((x0, y0), x1 - x0, y1 - y0, fill=False, edgecolor='#2a2420', lw=1.4, zorder=5))

draw_track(ifi47_m0, 710)
draw_track(ifi47_m1, 759)
draw_track(ifi47_de, 803)
draw_track(ifit3_m0, 713)
draw_track(ifit3_m1, 760)
draw_track(ifit3_de, 805)
draw_track(osl_m0, 888)
draw_track(osl_m1, 944)
draw_track(list(zip(range(107, 297, 3), osl_m1_low)), 944)
ov.plot([107, 297], [944, 944], color=TRACK, lw=1.6, zorder=2)
draw_track(osl_de, 989)
draw_track(oas_m0, 1078)
draw_track(oas_m1, 1140)
draw_track(oas_de, 1195)

draw_gene(ifi47_exons, 816, 114, 194)
draw_gene(ifit3_exons, 815, 282, 312)
draw_gene(osl_exons, 1014, 114, 298, light=[112, 303], ht=9)
draw_gene(oas_exons, 1211, 103, 329, light=[103, 329], ht=9)

for x0, y0, x1, y1 in [(112, 687, 142, 808), (149, 687, 172, 808), (228, 687, 259, 808), (272, 687, 295, 808),
                       (105, 857, 128, 994), (224, 857, 244, 994), (139, 1052, 162, 1198), (203, 1052, 226, 1198),
                       (289, 1052, 312, 1198)]:
    ov.add_patch(Rectangle((x0, y0), x1 - x0, y1 - y0, fill=False, edgecolor=PINK, lw=1.6, zorder=4))

for right, ys in [(83, (710, 755, 800)), (80, (884, 933, 980)), (83, (1079, 1131, 1187))]:
    for label, y in zip(['M0', 'M1', 'deM0_M1'], ys):
        ov.text(right, y, label, fontsize=10.8, fontweight='bold', ha='right', va='center', color='#111111')
for name, x, y in [('Ifi47', 153, 831), ('Ifit3', 288, 831), ('Osl2', 145, 1035), ('Osl1', 246, 1035),
                   ('Oas2', 140, 1240), ('Oas3', 210, 1240), ('Oas1', 288, 1241)]:
    ov.text(x, y, name, fontsize=13, ha='center', va='center', color='#111111')

# ---- C
c_values = [c_oas3, c_oasl2, c_oasl1, c_oas2, c_ifit3, c_ifi47]
c_boxes = [(528, 718, 753, 913), (779, 718, 1006, 913), (1030, 718, 1257, 913),
           (529, 967, 755, 1161), (779, 967, 1006, 1161), (1032, 967, 1257, 1161)]
c_title_xy = [(626, 707), (891, 707), (1139, 707), (640, 954), (886, 954), (1144, 955)]
for gene, vals, box, txy in zip(c_genes, c_values, c_boxes, c_title_xy):
    ax = px_axes(*box)
    ax.plot(c_times, vals, color='black', lw=1.9)
    for t in [24, 96]:
        ax.axvline(t, color='#ee1c25', lw=1.5, dashes=(5.5, 4))
    ax.set_xlim(-4.6, 100.8)
    ax.set_ylim(-0.207, 4.18)
    ax.set_xticks([0, 24, 96])
    ax.set_yticks([0, 1, 2, 3, 4])
    ax.tick_params(length=3, width=1, labelsize=9.5, labelcolor='#444444', pad=3)
    for lab in ax.get_xticklabels() + ax.get_yticklabels():
        lab.set_family(NARROW)
    for side in ax.spines.values():
        side.set_linewidth(1.8)
    ov.text(txy[0], txy[1], gene, family=NARROW, fontsize=11, ha='center', va='center', color='#222222')
ov.text(491, 932, 'FPKMs(log10)', family='DejaVu Sans', fontsize=8.6, fontweight='bold', rotation=90, ha='center', va='center')
ov.text(914, 1204, 'Time (hours)', fontsize=14, fontweight='bold', ha='center', va='center', color='#111111')

# ---- D
d_boxes = [(97, 1315, 276, 1482), (285, 1315, 464, 1482), (473, 1315, 654, 1482), (663, 1315, 843, 1482)]
d_overall = [d1_overall, d2_overall, d3_overall, d4_overall]
d_hyst = [d1_hyst, d2_hyst, d3_hyst, d4_hyst]
d_title_xy = [(180, 1294), (371, 1294), (554, 1293), (737, 1292)]
for i in range(4):
    draw_profile(d_boxes[i], d_overall[i], d_hyst[i], (33.2, 92.6), [40, 50, 60, 70, 80, 90], i == 0, 0.431, 0.576)
    ov.text(*d_title_xy[i], d_titles[i], fontsize=12.4, fontweight='bold', ha='center', va='center')
ov.text(55, 1400, 'Signal Abundance', fontsize=10, fontweight='bold', rotation=90, ha='center', va='center', color='#222222')
side_legend(891, 934, 946, 1380, 1409, 14.3)

# ---- E
e_boxes = [(97, 1570, 279, 1736), (288, 1570, 469, 1736), (479, 1570, 659, 1736)]
e_overall = [e1_overall, e2_overall, e3_overall]
e_hyst = [e1_hyst, e2_hyst, e3_hyst]
e_title_xy = [(184, 1547), (360, 1545), (553, 1545)]
for i in range(3):
    ticks = [20, 25, 30] if i == 0 else [19, 24, 29]
    draw_profile(e_boxes[i], e_overall[i], e_hyst[i], (17.6, 33.27), ticks, i == 0, 0.44, 0.587)
    ov.text(*e_title_xy[i], e_titles[i], fontsize=12.4, fontweight='bold', ha='center', va='center')
ov.text(55, 1651, 'Signal Abundance', fontsize=10, fontweight='bold', rotation=90, ha='center', va='center', color='#222222')
side_legend(692, 735, 748, 1646, 1675, 14.3)

# ---- F
f_boxes = [(97, 1807, 278, 1973), (288, 1807, 470, 1973), (479, 1807, 661, 1973), (666, 1807, 848, 1973), (857, 1807, 1039, 1973)]
f_overall = [f1_overall, f2_overall, f3_overall, f4_overall, f5_overall]
f_hyst = [f1_hyst, f2_hyst, f3_hyst, f4_hyst, f5_hyst]
f_title_xy = [(191, 1785), (379, 1784), (566, 1783), (756, 1784), (961, 1786)]
for i in range(5):
    draw_profile(f_boxes[i], f_overall[i], f_hyst[i], (18.1, 274.7), [50, 100, 150, 200, 250], i == 0, 0.424, 0.564)
    ov.text(*f_title_xy[i], f_titles[i], fontsize=12.6, fontweight='bold', ha='center', va='center')
ov.text(55, 1890, 'Signal Abundance', fontsize=10, fontweight='bold', rotation=90, ha='center', va='center', color='#222222')
side_legend(1085, 1128, 1140, 1874, 1904, 14.3)

fig.savefig('out.png', dpi=100)
